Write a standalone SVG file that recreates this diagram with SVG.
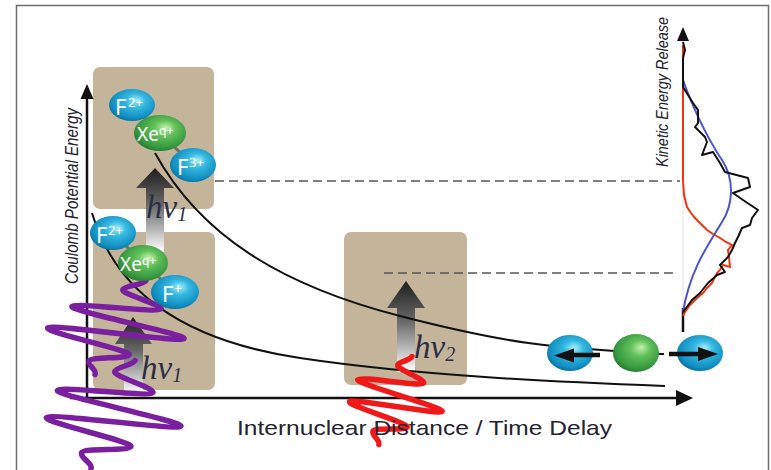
<svg xmlns="http://www.w3.org/2000/svg" width="771" height="470" viewBox="0 0 771 470">
  <defs>
    <radialGradient id="gBlue" cx="0.55" cy="0.42" r="0.62" fx="0.6" fy="0.35">
      <stop offset="0" stop-color="#a6ecfa"/>
      <stop offset="0.35" stop-color="#35b8e0"/>
      <stop offset="0.8" stop-color="#118fc2"/>
      <stop offset="1" stop-color="#0a6c98"/>
    </radialGradient>
    <radialGradient id="gGreen" cx="0.55" cy="0.42" r="0.62" fx="0.62" fy="0.35">
      <stop offset="0" stop-color="#c2f2ac"/>
      <stop offset="0.35" stop-color="#62c05a"/>
      <stop offset="0.8" stop-color="#37993f"/>
      <stop offset="1" stop-color="#21772b"/>
    </radialGradient>
    <linearGradient id="gShaft" x1="0" y1="0" x2="0" y2="1">
      <stop offset="0" stop-color="#1e1e1e"/>
      <stop offset="0.45" stop-color="#6a6a6a"/>
      <stop offset="1" stop-color="#ffffff"/>
    </linearGradient>
    <style>
      .box { fill: #c3b49a; }
      .photon { fill: url(#gShaft); }
      .axis { stroke: #111; stroke-width: 2.5; fill: none; }
      .curve { stroke: #111; stroke-width: 2; fill: none; }
      .dash { stroke: #555; stroke-width: 1.5; stroke-dasharray: 9 5; fill: none; }
      .pulse { fill: none; stroke-width: 5.5; stroke-linecap: round; stroke-linejoin: round; }
      .bond { stroke: #6f6f6f; stroke-width: 3; }
      .blue { fill: url(#gBlue); }
      .green { fill: url(#gGreen); }
      .ion { fill: #fff; font-family: "Noto Sans", "Liberation Sans", sans-serif; }
      .hv { fill: #2b2f45; font-family: "Liberation Serif", serif; font-style: italic; }
      .lab { fill: #24242e; font-family: "Liberation Sans", "Noto Sans", sans-serif; }
    </style>
  </defs>

  <rect width="771" height="470" fill="#fff"/>
  <rect x="16.5" y="5.5" width="752" height="480" fill="none" stroke="#6e6e6e" stroke-width="1.5"/>

  <!-- excitation windows -->
  <g id="box-upper"><rect class="box" x="93" y="67" width="121" height="142" rx="7"/></g>
  <g id="box-lower"><rect class="box" x="93" y="232" width="122" height="158" rx="7"/></g>
  <g id="box-mid"><rect class="box" x="344" y="232" width="123" height="153" rx="7"/></g>

  <!-- photon arrows -->
  <g id="photon-arrows">
    <polygon class="photon" points="155,168 174,188 164,188 164,252 146,252 146,188 136,188"/>
    <polygon class="photon" points="133,317 152,344 143,344 143,394 124,394 124,344 115,344"/>
    <polygon class="photon" points="406,281 425,308 415,308 415,372 397,372 397,308 387,308"/>
  </g>

  <!-- connectors: reference levels, axes, potential curves -->
  <g id="connectors">
    <line class="dash" x1="215" y1="181" x2="680" y2="181"/>
    <line class="dash" x1="384" y1="273" x2="678" y2="273"/>

    <line class="axis" x1="87" y1="398" x2="87" y2="97"/>
    <polygon points="87,84 80.5,99 93.5,99" fill="#111"/>
    <line class="axis" x1="70" y1="398" x2="678" y2="398"/>
    <polygon points="693,398 676,390 676,406" fill="#111"/>

    <path class="curve" d="M155,153 C200,235 280,285 400,316 S560,348 664,354"/>
    <path class="curve" d="M92,213 C115,290 180,340 300,358 S560,382 665,386"/>
  </g>

  <!-- kinetic energy release spectrum -->
  <g id="ker-plot">
    <line x1="683" y1="40" x2="683" y2="312" stroke="#e2e2e2" stroke-width="1"/>
    <line x1="683" y1="308" x2="683" y2="332" stroke="#111" stroke-width="2.5"/>
    <polygon points="683,27 677,41 689,41" fill="#111"/>
    <polyline fill="none" stroke="#f4320f" stroke-width="2" points="683,45 683,180 684,195 687,207 691,213 695,218 701,224 707,230 713,234 720,238 726,242 732,245 728,250 729,257 730,267 723,265 720,270 717,273 712,283 707,288 703,293 697,298 690,305 685,312 683,316"/>
    <path fill="none" stroke="#4b55c8" stroke-width="2" d="M683,80 C690,100 705,135 722,160 C735,180 733,205 722,222 C708,245 690,270 683,312"/>
    <polyline fill="none" stroke="#111" stroke-width="2" stroke-linejoin="round" points="683,42 685,50 683,58 683,87 693,103 698,110 698,123 695,127 705,137 707,142 702,155 713,152 720,163 725,172 748,178 750,187 733,193 743,200 758,210 752,218 750,225 742,228 738,237 735,243 732,250 728,257 720,265 725,272 717,275 708,283 700,293 692,300 686,308 683,312"/>
  </g>

  <!-- laser pulses -->
  <g id="pulses">
    <path class="pulse" stroke="#7a1fa0" d="M95,374.5 C97.3,370.2 87,365.1 89.3,360.8 S126.8,359.1 129.1,354.8 S45.4,332.2 47.7,327.9 S181.7,342.9 184,338.6 S69.7,310.8 72,306.5 S158.7,313.3 161,309 S120.6,293.9 122.9,289.6 S143.6,285 145.9,280.7"/>
    <path class="pulse" stroke="#7a1fa0" d="M91,468.5 C93,463.6 79.7,457.4 81.7,452.5 S128.9,451.4 130.9,446.5 S44.4,422.4 46.4,417.5 S178.9,431.1 180.9,426.2 S55.4,395.4 57.4,390.5 S150.9,397.4 152.9,392.5 S112.7,376.4 114.7,371.5 S133,365.4 135,360.5"/>
    <path class="pulse" stroke="#f01818" d="M378.9,444.5 C380.4,440.5 371.4,435.1 372.9,431.1 S405.7,431.1 407.2,427.1 S348,405.7 349.5,401.7 S440.7,415.4 442.2,411.4 S356.2,383.7 357.7,379.7 S422.2,387.1 423.7,383.1 S396.2,369.1 397.7,365.1 S410.4,360.5 411.9,356.5"/>
  </g>

  <!-- molecule after first pulse (upper) -->
  <g id="molecule-upper">
    <line class="bond" x1="132" y1="105" x2="160" y2="133"/>
    <line class="bond" x1="160" y1="133" x2="193" y2="165"/>
    <ellipse class="blue" cx="132" cy="105" rx="23" ry="16"/>
    <ellipse class="green" cx="160" cy="133" rx="26" ry="18"/>
    <ellipse class="blue" cx="193" cy="165" rx="23" ry="17"/>
    <text class="ion" x="115" y="115" font-size="22">F</text>
    <text class="ion" x="128" y="107" font-size="13">2+</text>
    <text class="ion" x="137" y="141" font-size="19">Xe</text>
    <text class="ion" x="159" y="135" font-size="12">q+</text>
    <text class="ion" x="177" y="175" font-size="22">F</text>
    <text class="ion" x="189" y="167" font-size="13">3+</text>
  </g>

  <!-- molecule after first pulse (lower) -->
  <g id="molecule-lower">
    <line class="bond" x1="113" y1="233" x2="143" y2="263"/>
    <line class="bond" x1="143" y1="263" x2="175" y2="292"/>
    <ellipse class="blue" cx="113" cy="233" rx="23" ry="17"/>
    <ellipse class="green" cx="143" cy="263" rx="25" ry="18"/>
    <ellipse class="blue" cx="175" cy="292" rx="24" ry="17"/>
    <text class="ion" x="96" y="243" font-size="22">F</text>
    <text class="ion" x="108" y="235" font-size="13">2+</text>
    <text class="ion" x="120" y="271" font-size="19">Xe</text>
    <text class="ion" x="142" y="265" font-size="12">q+</text>
    <text class="ion" x="162" y="302" font-size="22">F</text>
    <text class="ion" x="174" y="294" font-size="14">+</text>
  </g>

  <!-- dissociating fragments -->
  <g id="fragments">
    <ellipse class="blue" cx="570" cy="353" rx="23" ry="18"/>
    <ellipse class="green" cx="636" cy="353" rx="23" ry="19"/>
    <ellipse class="blue" cx="700" cy="353" rx="23" ry="18"/>
    <line x1="600" y1="355" x2="570" y2="355" stroke="#111" stroke-width="4.5"/>
    <polygon points="554,355.5 574,348.5 574,362.5" fill="#111"/>
    <line x1="669" y1="354" x2="700" y2="354" stroke="#111" stroke-width="4.5"/>
    <polygon points="718,354 698,347 698,361" fill="#111"/>
  </g>

  <!-- photon energy labels -->
  <g id="labels-hv">
    <text class="hv" x="146" y="218" font-size="33">hν<tspan font-size="20" dy="3">1</tspan></text>
    <text class="hv" x="141" y="379" font-size="33">hν<tspan font-size="20" dy="3">1</tspan></text>
    <text class="hv" x="414" y="358" font-size="33">hν<tspan font-size="20" dy="3">2</tspan></text>
  </g>

  <!-- axis titles -->
  <g id="axis-titles">
    <text class="lab" x="237" y="435" font-size="21" textLength="375" lengthAdjust="spacingAndGlyphs">Internuclear Distance / Time Delay</text>
    <text class="lab" transform="translate(78,284) rotate(-90)" font-size="19" font-style="italic" textLength="176" lengthAdjust="spacingAndGlyphs">Coulomb Potential Energy</text>
    <text class="lab" transform="translate(668,167) rotate(-90)" font-size="16" font-style="italic" textLength="150" lengthAdjust="spacingAndGlyphs">Kinetic Energy Release</text>
  </g>
</svg>
